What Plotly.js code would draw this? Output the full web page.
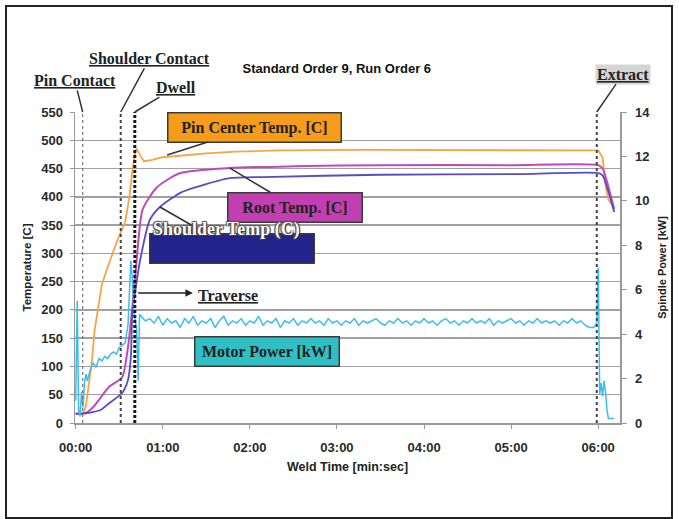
<!DOCTYPE html>
<html>
<head>
<meta charset="utf-8">
<script src="https://cdn.plot.ly/plotly-3.0.1.min.js"></script>
<style>
  html, body { margin: 0; padding: 0; background: #fff; }
  #chart { position: absolute; left: 0; top: 0; width: 679px; height: 519px; }
  #frame { position: absolute; left: 5px; top: 5px; width: 664px; height: 510px; border: 2px solid #222; pointer-events: none; }
</style>
</head>
<body>
<div id="chart"></div>
<div id="frame"></div>
<script>
// ---- data (time in seconds) ----
const pinTime = [0, 5, 7, 11, 13, 15, 18, 23, 29, 34, 37, 39, 41, 42, 44, 47, 52, 60, 75, 90, 110, 140, 200, 300, 360, 363, 365, 367, 371];
const pinTemp = [16, 16, 30, 106, 164, 200, 245, 283, 325, 355, 400, 445, 480, 485, 475, 463, 465, 470, 474, 477, 480, 482, 483, 483, 482, 470, 420, 395, 380];

const rootTime = [0, 6, 12, 23, 32, 36, 39, 42, 46, 56, 72, 106, 150, 210, 300, 360, 363, 371];
const rootTemp = [16, 17, 28, 64, 81, 134, 205, 288, 377, 417, 442, 451, 454, 456, 456, 456, 450, 378];

const shoulderTime = [0, 6, 17, 23, 32, 36, 38, 39, 42, 44, 51, 58, 72, 83, 106, 129, 210, 300, 360, 363, 371];
const shoulderTemp = [17, 17, 23, 35, 53, 76, 117, 195, 250, 283, 359, 382, 407, 417, 433, 435, 439, 440, 442, 438, 373];

const motorTime = [0, 1, 2, 3, 4, 5, 6, 7, 8, 10, 12, 14, 16, 18, 20, 22, 24, 26, 28, 30, 32, 34, 36, 37, 38, 39, 40, 41, 42, 43, 44,
  45, 48, 51, 54, 57, 60, 63, 66, 69, 72, 75, 78, 81, 84, 87, 90, 93, 96, 99, 102, 105, 108, 111, 114, 117, 120,
  123, 126, 129, 132, 135, 138, 141, 144, 147, 150, 153, 156, 159, 162, 165, 168, 171, 174, 177, 180,
  183, 186, 189, 192, 195, 198, 201, 204, 207, 210, 213, 216, 219, 222, 225, 228, 231, 234, 237, 240,
  243, 246, 249, 252, 255, 258, 261, 264, 267, 270, 273, 276, 279, 282, 285, 288, 291, 294, 297, 300,
  303, 306, 309, 312, 315, 318, 321, 324, 327, 330, 333, 336, 339, 342, 345, 348, 351, 354, 357,
  358, 359, 360, 361, 362, 363, 364, 365, 366, 367, 369, 371];
const motorPower = [1.0, 5.5, 0.6, 0.3, 1.4, 0.7, 1.8, 2.2, 1.9, 2.4, 2.7, 2.5, 2.9, 2.8, 3.0, 2.9, 3.1, 3.2, 3.1, 3.4, 3.5, 3.6, 4.4, 5.8, 7.3, 6.5, 5.0, 4.6, 4.2, 1.9, 4.9,
  4.8, 4.6, 4.7, 4.5, 4.8, 4.4, 4.7, 4.5, 4.6, 4.3, 4.7, 4.5, 4.8, 4.4, 4.6, 4.5, 4.7, 4.3, 4.6, 4.8, 4.4, 4.6, 4.5, 4.7, 4.4, 4.6,
  4.5, 4.8, 4.4, 4.6, 4.5, 4.7, 4.3, 4.6, 4.5, 4.7, 4.4, 4.6, 4.5, 4.7, 4.5, 4.6, 4.4, 4.7, 4.5, 4.6,
  4.4, 4.6, 4.5, 4.7, 4.4, 4.6, 4.5, 4.6, 4.7, 4.5, 4.4, 4.6, 4.5, 4.7, 4.5, 4.6, 4.4, 4.6, 4.5, 4.7,
  4.5, 4.6, 4.4, 4.6, 4.7, 4.5, 4.6, 4.4, 4.6, 4.5, 4.7, 4.5, 4.6, 4.5, 4.7, 4.4, 4.6, 4.5, 4.6, 4.7,
  4.5, 4.6, 4.4, 4.6, 4.5, 4.7, 4.5, 4.6, 4.5, 4.6, 4.4, 4.6, 4.5, 4.7, 4.5, 4.6, 4.4, 4.3, 4.3,
  4.4, 4.5, 7.0, 1.3, 1.8, 1.2, 1.9, 1.4, 0.6, 0.2, 0.2, 0.2];

const eventTimes = [4.8, 31, 40.7, 359];
const eventNames = ['Pin Contact', 'Shoulder Contact', 'Dwell', 'Extract'];

const tickVals = [0, 60, 120, 180, 240, 300, 360];
const tickText = ['00:00', '01:00', '02:00', '03:00', '04:00', '05:00', '06:00'];

// ---- styling ----
const sans = 'Liberation Sans, Arial, sans-serif';
const serif = 'Liberation Serif, Times New Roman, serif';
const tickFont = {family: sans, size: 13, color: '#2a2a2a', weight: 'bold'};

const traces = [
  {x: pinTime, y: pinTemp, type: 'scatter', mode: 'lines', name: 'Pin Center Temp. [C]',
   line: {color: '#f7a446', width: 1.8}},
  {x: rootTime, y: rootTemp, type: 'scatter', mode: 'lines', name: 'Root Temp. [C]',
   line: {color: '#c24ab8', width: 2, shape: 'spline', smoothing: 0.6}},
  {x: shoulderTime, y: shoulderTemp, type: 'scatter', mode: 'lines', name: 'Shoulder Temp (C)',
   line: {color: '#5a4cc6', width: 1.8, shape: 'spline', smoothing: 0.6}},
  {x: motorTime, y: motorPower, type: 'scatter', mode: 'lines', name: 'Motor Power [kW]', yaxis: 'y2',
   line: {color: '#3cbdf0', width: 1.5}}
];

const dashStyles = [
  {color: '#777', width: 1.2, dash: '3px,3px'},
  {color: '#444', width: 2, dash: '3px,3px'},
  {color: '#1a1a1a', width: 3, dash: '3px,2px'},
  {color: '#444', width: 2, dash: '3px,3px'}
];
const shapes = eventTimes.map((t, i) => ({
  type: 'line', xref: 'x', yref: 'paper', x0: t, x1: t, y0: 0, y1: 1, line: dashStyles[i]
}));

const labelFont = {family: serif, size: 16, color: '#222', weight: 'bold'};
const leader = {showarrow: true, arrowhead: 0, arrowwidth: 1.5, arrowcolor: '#333', axref: 'x', ayref: 'y'};

// event label positions [text x (s), text y (C)]
const eventLabelPos = [[-0.7, 606], [51, 645], [69, 594], [377, 617]];
const annotations = eventNames.map((n, i) => Object.assign({}, leader, {
  x: eventTimes[i], y: 550, ax: eventLabelPos[i][0], ay: eventLabelPos[i][1],
  text: '<u>' + n + '</u>', font: labelFont,
  bgcolor: i === 3 ? '#d4d4d4' : 'rgba(0,0,0,0)'
}));

annotations.push(
  Object.assign({}, leader, {x: 63, y: 474, ax: 123, ay: 523, text: 'Pin Center Temp. [C]', font: labelFont,
    bgcolor: '#f59c1c', bordercolor: '#3a3a3a', borderwidth: 1.5, borderpad: 1, width: 170, height: 26}),
  Object.assign({}, leader, {x: 106, y: 451, ax: 151, ay: 382, text: 'Root Temp. [C]', font: labelFont,
    bgcolor: '#c13fb0', bordercolor: '#3a3a3a', borderwidth: 1.5, borderpad: 1, width: 131, height: 26}),
  Object.assign({}, leader, {x: 58, y: 382, ax: 107.6, ay: 309, text: ' ', font: labelFont,
    bgcolor: '#23238c', bordercolor: '#3a3a3a', borderwidth: 1.5, borderpad: 1, width: 161, height: 26}),
  {x: 104, y: 343, xref: 'x', yref: 'y', showarrow: false, text: 'Shoulder Temp (C)',
    font: {family: serif, size: 18, color: '#ffffff', weight: 'bold',
      shadow: '1px 1px 1px #333, -1px -1px 1px #555, 1px -1px 1px #555, -1px 1px 1px #555'}},
  {x: 132, y: 125.6, xref: 'x', yref: 'y', showarrow: false, text: 'Motor Power [kW]', font: labelFont,
    bgcolor: '#2fbfc4', bordercolor: '#3a3a3a', borderwidth: 1.5, borderpad: 1, width: 141, height: 26},
  {x: 80.7, y: 230, ax: 42, ay: 230, xref: 'x', yref: 'y', axref: 'x', ayref: 'y', text: '',
    showarrow: true, arrowhead: 2, arrowsize: 1, arrowwidth: 1.5, arrowcolor: '#222'},
  {x: 104.8, y: 226, xref: 'x', yref: 'y', showarrow: false, text: '<u>Traverse</u>', font: labelFont}
);

const layout = {
  width: 679, height: 519,
  margin: {l: 75, r: 59, t: 112, b: 96},
  paper_bgcolor: '#ffffff', plot_bgcolor: '#ffffff',
  showlegend: false,
  title: {text: 'Standard Order 9, Run Order 6', x: 0.496, xanchor: 'center', xref: 'container',
    y: 1 - 68 / 519, yanchor: 'middle', yref: 'container',
    font: {family: sans, size: 13, color: '#111', weight: 'bold'}},
  xaxis: {range: [-0.5, 375], tickvals: tickVals, ticktext: tickText, showgrid: false, zeroline: false,
    showline: true, linecolor: '#9a9a9a', linewidth: 1.5, ticks: 'outside', ticklen: 4, tickcolor: '#9a9a9a',
    tickfont: tickFont, ticklabelstandoff: 8,
    title: {text: 'Weld Time [min:sec]', font: {family: sans, size: 12.5, color: '#222', weight: 'bold'}, standoff: 8}},
  yaxis: {range: [0, 550], dtick: 50, showgrid: true, gridcolor: '#a0a0a0', gridwidth: 1.5, zeroline: false,
    showline: true, linecolor: '#9a9a9a', linewidth: 1.5, ticks: 'outside', ticklen: 4, tickcolor: '#9a9a9a',
    tickfont: tickFont, ticklabelstandoff: 4,
    title: {text: 'Temperature [C]', font: {family: sans, size: 11.5, color: '#222', weight: 'bold'}, standoff: 7}},
  yaxis2: {range: [0, 14], dtick: 2, overlaying: 'y', side: 'right', showgrid: false, zeroline: false,
    showline: true, linecolor: '#9a9a9a', linewidth: 1.5, ticks: 'outside', ticklen: 5, tickcolor: '#9a9a9a',
    tickfont: tickFont, ticklabelstandoff: 6,
    title: {text: 'Spindle Power [kW]', font: {family: sans, size: 11, color: '#222', weight: 'bold'}, standoff: 9}},
  shapes: shapes,
  annotations: annotations
};

Plotly.newPlot('chart', traces, layout, {displayModeBar: false, staticPlot: true});
</script>
</body>
</html>
